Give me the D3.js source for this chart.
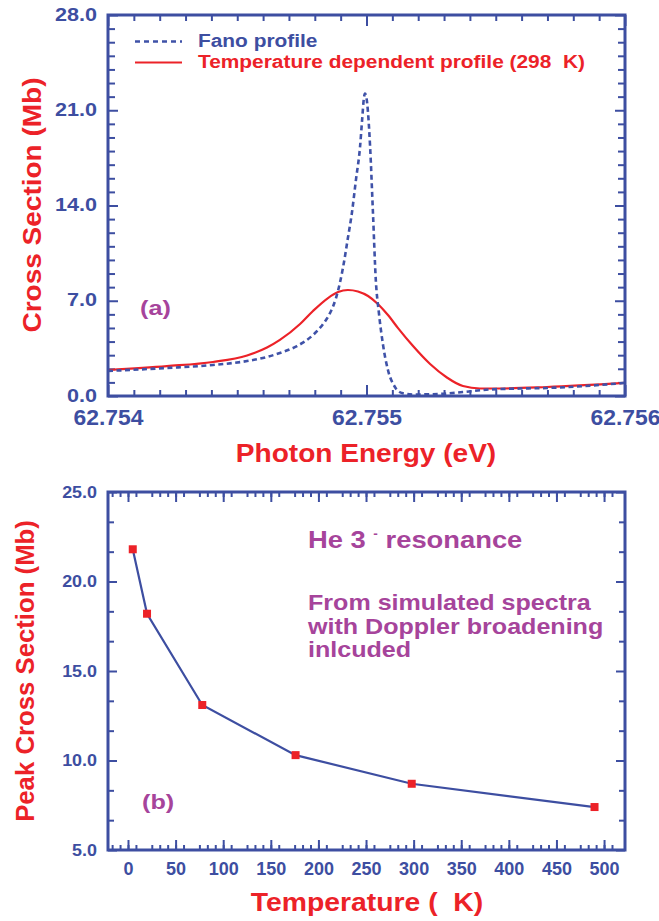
<!DOCTYPE html>
<html>
<head>
<meta charset="utf-8">
<script src="https://cdn.jsdelivr.net/npm/d3@7"></script>
<style>
  body { margin: 0; background: #fff; }
  svg { display: block; font-family: "Liberation Sans", Arial, Helvetica, sans-serif; font-weight: bold; }
</style>
</head>
<body>
<svg id="fig" width="659" height="921"></svg>
<script>
// ---- Panel (a): cross section vs photon energy ----
const energyTicks = [62.754, 62.755, 62.756];
const energyTickLabels = ["62.754", "62.755", "62.756"];
const crossTicks = [0, 7, 14, 21, 28];
const crossTickLabels = ["0.0", "7.0", "14.0", "21.0", "28.0"];

// Fano profile (dashed)
const fanoEnergy = [62.754000, 62.754228, 62.754406, 62.754538, 62.754615, 62.754665, 62.754731,
  62.754793, 62.754832, 62.754859, 62.754882, 62.754897, 62.754913, 62.754928, 62.754944,
  62.754959, 62.754975, 62.754983, 62.754990, 62.754994, 62.755000, 62.755006, 62.755014,
  62.755025, 62.755036, 62.755048, 62.755064, 62.755083, 62.755110, 62.755137, 62.755180,
  62.755284, 62.755373, 62.755478, 62.755594, 62.755698, 62.756000];
const fanoSigma = [1.84, 2.06, 2.28, 2.57, 2.87, 3.16, 3.67,
  4.48, 5.29, 6.10, 7.20, 8.30, 9.85, 11.61, 13.52,
  15.87, 18.30, 20.28, 21.90, 22.23, 21.90, 20.80, 18.30,
  13.45, 8.52, 6.10, 3.75, 1.91, 0.66, 0.22, 0.11,
  0.15, 0.29, 0.48, 0.55, 0.59, 0.96];

// Temperature dependent profile at 298 K (solid)
const thermalEnergy = [62.754000, 62.754228, 62.754406, 62.754538, 62.754615, 62.754665, 62.754743,
  62.754793, 62.754851, 62.754890, 62.754928, 62.754967, 62.755006, 62.755044, 62.755083,
  62.755122, 62.755180, 62.755246, 62.755311, 62.755373, 62.755439, 62.755505, 62.755698,
  62.756000];
const thermalSigma = [1.91, 2.20, 2.50, 2.98, 3.56, 4.12, 5.29,
  6.25, 7.20, 7.64, 7.79, 7.68, 7.35, 6.76, 5.95,
  4.99, 3.67, 2.35, 1.36, 0.73, 0.55, 0.55, 0.66,
  0.96];

// ---- Panel (b): peak cross section vs temperature ----
const temperatures = [5, 20, 78, 176, 298, 490];
const peakSigma = [21.8, 18.2, 13.1, 10.3, 8.7, 7.4];
const tempTicks = [0, 50, 100, 150, 200, 250, 300, 350, 400, 450, 500];
const tempTickLabels = ["0", "50", "100", "150", "200", "250", "300", "350", "400", "450", "500"];
const peakTicks = [5, 10, 15, 20, 25];
const peakTickLabels = ["5.0", "10.0", "15.0", "20.0", "25.0"];

const BLUE = "#3d4ea1", DASHBLUE = "#3f52a8", RED = "#ec2228", PURPLE = "#a6449b";
const svg = d3.select("#fig");

const A = { left: 108, right: 625, top: 15, bottom: 396 };
const B = { left: 108, right: 625, top: 492, bottom: 850 };

function ticks(axisFn, scale, values, len, transform) {
  svg.append("g")
    .attr("transform", transform)
    .call(axisFn(scale).tickValues(values).tickSize(-len).tickFormat(""))
    .call(g => g.select(".domain").remove())
    .selectAll("line").attr("stroke", BLUE).attr("stroke-width", 2);
}

// tick labels; sx widens the bold face horizontally
function labels(axisFn, scale, values, texts, pad, transform, size, sx, dy) {
  const t = svg.append("g")
    .attr("transform", transform)
    .call(axisFn(scale).tickValues(values).tickSize(0).tickPadding(pad)
      .tickFormat((d, i) => texts[i]))
    .call(g => g.select(".domain").remove())
    .selectAll("text")
    .attr("fill", BLUE)
    .style("font-family", "'Liberation Sans', Arial, sans-serif")
    .style("font-weight", "bold")
    .style("font-size", size + "px")
    .attr("x", function () { return (+this.getAttribute("x") || 0) / sx; })
    .attr("transform", `scale(${sx},1)`);
  if (dy) t.attr("dy", dy);
}

function label(x, y, str, size, fill, opts) {
  const o = opts || {};
  return svg.append("text")
    .attr("transform", `translate(${x},${y})${o.rotate ? " rotate(-90)" : ""} scale(${o.sx || 1},1)`)
    .attr("text-anchor", o.anchor || "start")
    .attr("fill", fill)
    .attr("xml:space", "preserve")
    .style("font-size", size + "px")
    .text(str);
}

function frame(P) {
  svg.append("rect")
    .attr("x", P.left).attr("y", P.top)
    .attr("width", P.right - P.left).attr("height", P.bottom - P.top)
    .attr("fill", "none").attr("stroke", BLUE).attr("stroke-width", 3);
}

// ===== Panel (a) =====
const xA = d3.scaleLinear().domain([62.754, 62.756]).range([A.left, A.right]);
const yA = d3.scaleLinear().domain([0, 28]).range([A.bottom, A.top]);

const xMinorA = d3.range(0, 21).map(i => 62.754 + i * 0.0001).filter((d, i) => i % 10 !== 0);
const yMinorA = d3.range(0, 29).filter(d => d % 7 !== 0);

ticks(d3.axisBottom, xA, xMinorA, 6, `translate(0,${A.bottom})`);
ticks(d3.axisBottom, xA, energyTicks, 11, `translate(0,${A.bottom})`);
ticks(d3.axisTop, xA, xMinorA, 6, `translate(0,${A.top})`);
ticks(d3.axisTop, xA, energyTicks, 11, `translate(0,${A.top})`);
ticks(d3.axisLeft, yA, yMinorA, 7, `translate(${A.left},0)`);
ticks(d3.axisLeft, yA, crossTicks, 10, `translate(${A.left},0)`);
ticks(d3.axisRight, yA, yMinorA, 7, `translate(${A.right},0)`);
ticks(d3.axisRight, yA, crossTicks, 10, `translate(${A.right},0)`);

const lineA = d3.line().x(d => xA(d[0])).y(d => yA(d[1])).curve(d3.curveMonotoneX);
svg.append("path")
  .datum(thermalEnergy.map((e, i) => [e, thermalSigma[i]]))
  .attr("d", lineA).attr("fill", "none").attr("stroke", RED).attr("stroke-width", 2.2);
svg.append("path")
  .datum(fanoEnergy.map((e, i) => [e, fanoSigma[i]]))
  .attr("d", lineA).attr("fill", "none").attr("stroke", DASHBLUE)
  .attr("stroke-width", 2.6).attr("stroke-dasharray", "5,3.5");

frame(A);

labels(d3.axisLeft, yA, crossTicks, crossTickLabels, 11, `translate(${A.left},0)`, 18, 1.2, "0.28em");
labels(d3.axisBottom, xA, energyTicks, energyTickLabels, 13, `translate(0,${A.bottom})`, 22, 1.04);

// legend
svg.append("line").attr("x1", 135).attr("x2", 182).attr("y1", 41.5).attr("y2", 41.5)
  .attr("stroke", DASHBLUE).attr("stroke-width", 2.6).attr("stroke-dasharray", "5,4");
label(198, 47, "Fano profile", 18, BLUE, { sx: 1.16 });
svg.append("line").attr("x1", 135).attr("x2", 182).attr("y1", 62.5).attr("y2", 62.5)
  .attr("stroke", RED).attr("stroke-width", 2.2);
label(198, 68, "Temperature dependent profile (298\u00a0\u00a0K)", 18, RED, { sx: 1.16 });

label(140, 315, "(a)", 21, PURPLE, { sx: 1.2 });

label(366, 462, "Photon Energy (eV)", 26, RED, { anchor: "middle", sx: 1.08 });
label(41, 205, "Cross Section (Mb)", 25, RED, { anchor: "middle", rotate: true, sx: 1.12 });

// ===== Panel (b) =====
const xB = d3.scaleLinear().domain([-21, 522]).range([B.left, B.right]);
const yB = d3.scaleLinear().domain([5, 25]).range([B.bottom, B.top]);

const xMinorB = d3.range(-2, 63).map(i => i * 50 / 6).filter((d, i) => (i + 2) % 6 !== 0 && d > -21 && d < 522);
const yMinorB = d3.range(0, 13).map(i => 5 + i * 5 / 3).filter((d, i) => i % 3 !== 0);

ticks(d3.axisBottom, xB, xMinorB, 5, `translate(0,${B.bottom})`);
ticks(d3.axisBottom, xB, tempTicks, 10, `translate(0,${B.bottom})`);
ticks(d3.axisTop, xB, xMinorB, 5, `translate(0,${B.top})`);
ticks(d3.axisTop, xB, tempTicks, 10, `translate(0,${B.top})`);
ticks(d3.axisLeft, yB, yMinorB, 6, `translate(${B.left},0)`);
ticks(d3.axisLeft, yB, peakTicks, 9, `translate(${B.left},0)`);
ticks(d3.axisRight, yB, yMinorB, 6, `translate(${B.right},0)`);
ticks(d3.axisRight, yB, peakTicks, 9, `translate(${B.right},0)`);

const peakData = temperatures.map((t, i) => [t, peakSigma[i]]);
svg.append("path").datum(peakData)
  .attr("d", d3.line().x(d => xB(d[0])).y(d => yB(d[1])))
  .attr("fill", "none").attr("stroke", BLUE).attr("stroke-width", 2.2);
svg.append("g").selectAll("rect").data(peakData).join("rect")
  .attr("x", d => xB(d[0]) - 4).attr("y", d => yB(d[1]) - 4)
  .attr("width", 8).attr("height", 8).attr("fill", RED);

frame(B);

labels(d3.axisLeft, yB, peakTicks, peakTickLabels, 11, `translate(${B.left},0)`, 16, 1.12);
labels(d3.axisBottom, xB, tempTicks, tempTickLabels, 12, `translate(0,${B.bottom})`, 18, 1.0);

// annotation
const he = label(308, 548, "He 3 ", 24, PURPLE, { sx: 1.14 });
he.append("tspan").style("font-size", "12px").attr("dy", -10).text("-");
he.append("tspan").attr("dy", 10).text(" resonance");

const note = ["From simulated spectra", "with Doppler broadening", "inlcuded"];
note.forEach((s, i) => label(308, 610 + i * 23.5, s, 22, PURPLE, { sx: 1.14 }));

label(142, 809, "(b)", 21, PURPLE, { sx: 1.2 });

label(367, 911, "Temperature (\u00a0\u00a0K)", 26, RED, { anchor: "middle", sx: 1.09 });
label(34, 671, "Peak Cross Section (Mb)", 25, RED, { anchor: "middle", rotate: true, sx: 1.03 });
</script>
</body>
</html>
